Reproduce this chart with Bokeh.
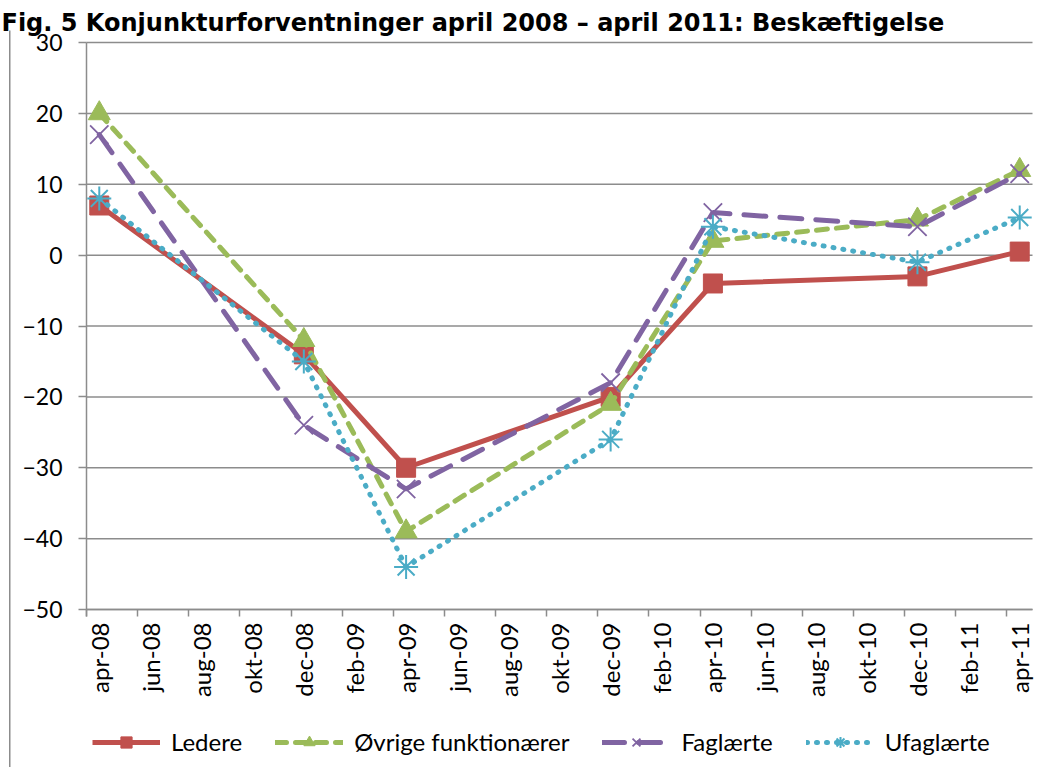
import math
from bokeh.plotting import figure
from bokeh.models import (FixedTicker, Range1d, Legend, LegendItem, Label,
                          LinearAxis, BoxAnnotation, ColumnDataSource)
from bokeh.embed import file_html
from bokeh.resources import INLINE

# ---- data -------------------------------------------------------------
tick_labels = ["apr-08", "jun-08", "aug-08", "okt-08", "dec-08", "feb-09",
               "apr-09", "jun-09", "aug-09", "okt-09", "dec-09", "feb-10",
               "apr-10", "jun-10", "aug-10", "okt-10", "dec-10", "feb-11",
               "apr-11"]
obs_dates = ["apr-08", "dec-08", "apr-09", "dec-09", "apr-10", "dec-10", "apr-11"]
ledere = [7, -14, -30, -20, -4, -3, 0.5]
ovrige = [20, -12, -39, -21, 2, 5, 12]
faglaerte = [17, -24, -33, -18, 6, 4, 11.5]
ufaglaerte = [8, -15, -44, -26, 4, -1, 5.3]
y_ticks = [-50, -40, -30, -20, -10, 0, 10, 20, 30]
title_text = "Fig. 5 Konjunkturforventninger april 2008 \u2013 april 2011: Besk\u00e6ftigelse"

# ---- layout geometry (pixels) -------------------------------------------
W, H = 1041, 767
PX_L, PX_R = 86, 1032       # plot area left / right
PX_T, PX_B = 42, 609        # y = top tick / y = bottom tick
n = len(tick_labels)
xlo, xhi = -0.25, n - 1 + 0.25
ylo, yhi = min(y_ticks), max(y_ticks)
xs = (PX_R - PX_L) / (xhi - xlo)
ys = (PX_B - PX_T) / (yhi - ylo)

xpos = [tick_labels.index(d) for d in obs_dates]
GRID = "#8c8c8c"
FONT = "Lato"

p = figure(output_backend="svg", toolbar_location=None, width=W, height=H,
           x_range=Range1d(xlo - PX_L / xs, xlo + (W - PX_L) / xs),
           y_range=Range1d(ylo - (H - PX_B) / ys, yhi + PX_T / ys),
           min_border=0, min_border_left=0, min_border_right=0,
           min_border_top=0, min_border_bottom=0)
p.outline_line_color = None
p.background_fill_color = "white"
p.border_fill_color = "white"
p.grid.visible = False

# horizontal gridlines over the plot area
p.segment(x0=[xlo] * len(y_ticks), x1=[xhi] * len(y_ticks), y0=y_ticks,
          y1=y_ticks, line_color=GRID, line_width=1.5, level="underlay")

# y axis, drawn at the plot area's left edge
ya = p.yaxis[0]
ya.fixed_location = xlo
ya.bounds = (ylo - 1, yhi)
ya.ticker = FixedTicker(ticks=y_ticks)
ya.minor_tick_line_color = None
ya.major_tick_in = 0
ya.major_tick_out = 8
ya.major_tick_line_color = GRID
ya.major_tick_line_width = 1.5
ya.axis_line_color = GRID
ya.axis_line_width = 1.5
ya.major_label_text_font = FONT
ya.major_label_text_font_size = "23px"
ya.major_label_text_color = "black"
ya.major_label_standoff = 16

# x axis line + tick marks between the category labels
xa = p.xaxis[0]
xa.fixed_location = ylo
xa.bounds = (xlo, xhi)
xa.ticker = FixedTicker(ticks=[i - 0.25 for i in range(n)])
xa.major_label_overrides = {i - 0.25: "" for i in range(n)}
xa.minor_tick_line_color = None
xa.major_tick_in = 0
xa.major_tick_out = 7
xa.major_tick_line_color = GRID
xa.major_tick_line_width = 1.5
xa.axis_line_color = GRID
xa.axis_line_width = 1.5

# x axis category labels
xl = LinearAxis(fixed_location=ylo, ticker=FixedTicker(ticks=list(range(n))),
                major_label_overrides={i: t for i, t in enumerate(tick_labels)})
xl.major_label_orientation = math.pi / 2
xl.major_label_text_font = FONT
xl.major_label_text_font_size = "24px"
xl.major_label_text_color = "black"
xl.major_label_standoff = 13
xl.major_tick_line_color = None
xl.minor_tick_line_color = None
xl.major_tick_out = 0
xl.major_tick_in = 0
xl.axis_line_color = None
p.add_layout(xl, "below")

RED, GREEN, PURPLE, CYAN = "#C0504D", "#9BBB59", "#8064A2", "#4BACC6"

src = ColumnDataSource(dict(x=xpos, ledere=ledere, ovrige=ovrige,
                            faglaerte=faglaerte, ufaglaerte=ufaglaerte))

l1 = p.line("x", "ledere", source=src, line_color=RED, line_width=5)
m1 = p.scatter("x", "ledere", source=src, marker="square", size=19,
               fill_color=RED, line_color=RED)

l2 = p.line("x", "ovrige", source=src, line_color=GREEN, line_width=5,
            line_dash="11 9", line_cap="round")
m2 = p.scatter("x", "ovrige", source=src, marker="triangle", size=22,
               fill_color=GREEN, line_color=GREEN)

l3 = p.line("x", "faglaerte", source=src, line_color=PURPLE, line_width=5,
            line_dash="22 14", line_cap="round")
m3 = p.scatter("x", "faglaerte", source=src, marker="x", size=26,
               line_color=PURPLE, line_width=1.8)

l4 = p.line("x", "ufaglaerte", source=src, line_color=CYAN, line_width=5,
            line_dash="1 9", line_cap="round")
m4 = p.scatter("x", "ufaglaerte", source=src, marker="asterisk", size=24,
               line_color=CYAN, line_width=2)

legend = Legend(items=[
    LegendItem(label="Ledere", renderers=[l1, m1]),
    LegendItem(label="\u00d8vrige funktion\u00e6rer", renderers=[l2, m2]),
    LegendItem(label="Fagl\u00e6rte", renderers=[l3, m3]),
    LegendItem(label="Ufagl\u00e6rte", renderers=[l4, m4]),
], orientation="horizontal", location=(92, 11))
legend.label_text_font = FONT
legend.label_text_font_size = "24px"
legend.label_text_color = "black"
legend.glyph_width = 68
legend.glyph_height = 28
legend.label_standoff = 11
legend.spacing = 33
legend.padding = 0
legend.margin = 0
legend.border_line_color = None
legend.background_fill_alpha = 0
p.add_layout(legend)

# chart title and the chart box's left edge
title = Label(x=1, y=22, x_units="canvas", y_units="canvas", text=title_text,
              text_font="DejaVu Sans", text_font_style="bold",
              text_font_size="24px", text_color="black",
              text_baseline="alphabetic", text_align="left")
p.add_layout(title)
edge_left = BoxAnnotation(left=8.5, right=10, top=30, bottom=H,
                          left_units="canvas", right_units="canvas",
                          top_units="canvas", bottom_units="canvas",
                          fill_color=GRID, fill_alpha=1, line_color=None)
p.add_layout(edge_left)

open("out.html", "w").write(file_html(p, INLINE))
